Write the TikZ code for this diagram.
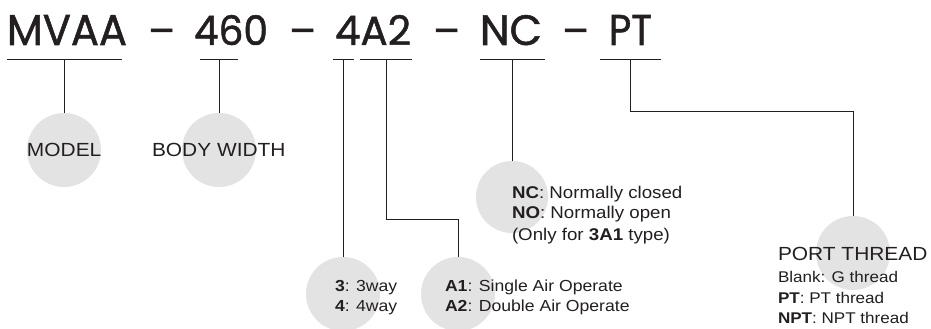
\documentclass[tikz,border=0pt]{standalone}
\usepackage{fontspec}
\setmainfont{Liberation Sans}[FakeStretch=1.1]
\newfontfamily\titlef{Poppins}[FakeBold=1.2]
\definecolor{ink}{HTML}{231F20}
\definecolor{discgray}{HTML}{E3E3E3}
\begin{document}
\begin{tikzpicture}[x=1pt,y=-1pt,
  every node/.style={inner sep=0pt, outer sep=0pt, text=ink},
  code/.style={anchor=base west, font=\titlef\fontsize{40}{40}\selectfont},
  sepd/.style={anchor=base west, font=\titlef\fontsize{40}{40}\selectfont},
  disc/.style={circle, fill=discgray, minimum size=74pt},
  wire/.style={draw=ink, line width=1pt},
  big/.style={anchor=base west, font=\fontsize{19}{19}\selectfont},
  mid/.style={anchor=base west, font=\fontsize{17}{17}\selectfont},
  sml/.style={anchor=base west, font=\fontsize{16}{16}\selectfont},
  tny/.style={anchor=base west, font=\fontsize{15.5}{15.5}\selectfont}]
\fill[white] (0,0) rectangle (931,329);
\useasboundingbox (0,0) rectangle (931,329);
% discs
\node[disc] (cM) at (64,150) {};
\node[disc] (cB) at (219,150) {};
\node[disc] (cW) at (343,294) {};
\node[disc] (cA) at (458,294) {};
\node[disc, minimum size=72pt] (cN) at (512,197) {};
\node[disc] (cP) at (853,253) {};
% title
\node[code] (tM) at (7,45) {\resizebox{120pt}{30pt}{MVAA}};
\node[sepd] (d1) at (148,45) {\resizebox{27pt}{!}{–}};
\node[code] (tB) at (194,45) {\resizebox{74pt}{30pt}{460}};
\node[sepd] (d2) at (289,45) {\resizebox{27pt}{!}{–}};
\node[code] (tW) at (335,45) {\resizebox{76pt}{30pt}{4A2}};
\node[sepd] (d3) at (433,45) {\resizebox{27pt}{!}{–}};
\node[code] (tN) at (480,45) {\resizebox{62pt}{30pt}{NC}};
\node[sepd] (d4) at (562,45) {\resizebox{27pt}{!}{–}};
\node[code] (tP) at (609,45) {\resizebox{43pt}{30pt}{PT}};
% underline coordinates
\coordinate (uM1) at (7,60);   \coordinate (uM2) at (122,60); \coordinate (uMc) at (64,60);
\coordinate (uB1) at (200,60); \coordinate (uB2) at (238,60); \coordinate (uBc) at (219,60);
\coordinate (uW1) at (333,60); \coordinate (uW2) at (354,60); \coordinate (uWc) at (343,60);
\coordinate (uA1) at (360,60); \coordinate (uA2) at (412,60); \coordinate (uAc) at (386,60);
\coordinate (uN1) at (480,60); \coordinate (uN2) at (545,60); \coordinate (uNc) at (512,60);
\coordinate (uP1) at (600,60); \coordinate (uP2) at (661,60); \coordinate (uPc) at (630,60);
\coordinate (kA) at (386,219);
\coordinate (kP) at (630,111);
% connectors
\draw[wire] (uM1) -- (uM2); \draw[wire] (uMc) -- (cM.north);
\draw[wire] (uB1) -- (uB2); \draw[wire] (uBc) -- (cB.north);
\draw[wire] (uW1) -- (uW2); \draw[wire] (uWc) -- (cW.north);
\draw[wire] (uA1) -- (uA2); \draw[wire] (uAc) -- (kA) -| (cA.north);
\draw[wire] (uN1) -- (uN2); \draw[wire] (uNc) -- (cN.north);
\draw[wire] (uP1) -- (uP2); \draw[wire] (uPc) -- (kP) -| (cP.north);
% labels
\node[big] (lM) at (27,156) {MODEL};
\node[big] (lB) at (152,156) {BODY WIDTH};
\node[sml] (lW1) at (335,291.7) {\textbf{3}: 3way};
\node[sml] (lW2) at (335,311.7) {\textbf{4}: 4way};
\node[sml] (lA1) at (445,291.7) {\textbf{A1}: Single Air Operate};
\node[sml] (lA2) at (445,311.7) {\textbf{A2}: Double Air Operate};
\node[mid] (lN1) at (512,198.7) {\textbf{NC}: Normally closed};
\node[mid] (lN2) at (512,218.7) {\textbf{NO}: Normally open};
\node[mid] (lN3) at (512,240.3) {(Only for \textbf{3A1} type)};
\node[big] (lP0) at (778,260.7) {PORT THREAD};
\node[tny] (lP1) at (778,282.7) {Blank: G thread};
\node[tny] (lP2) at (778,303.3) {\textbf{PT}: PT thread};
\node[tny] (lP3) at (778,323.3) {\textbf{NPT}: NPT thread};
\end{tikzpicture}
\end{document}
